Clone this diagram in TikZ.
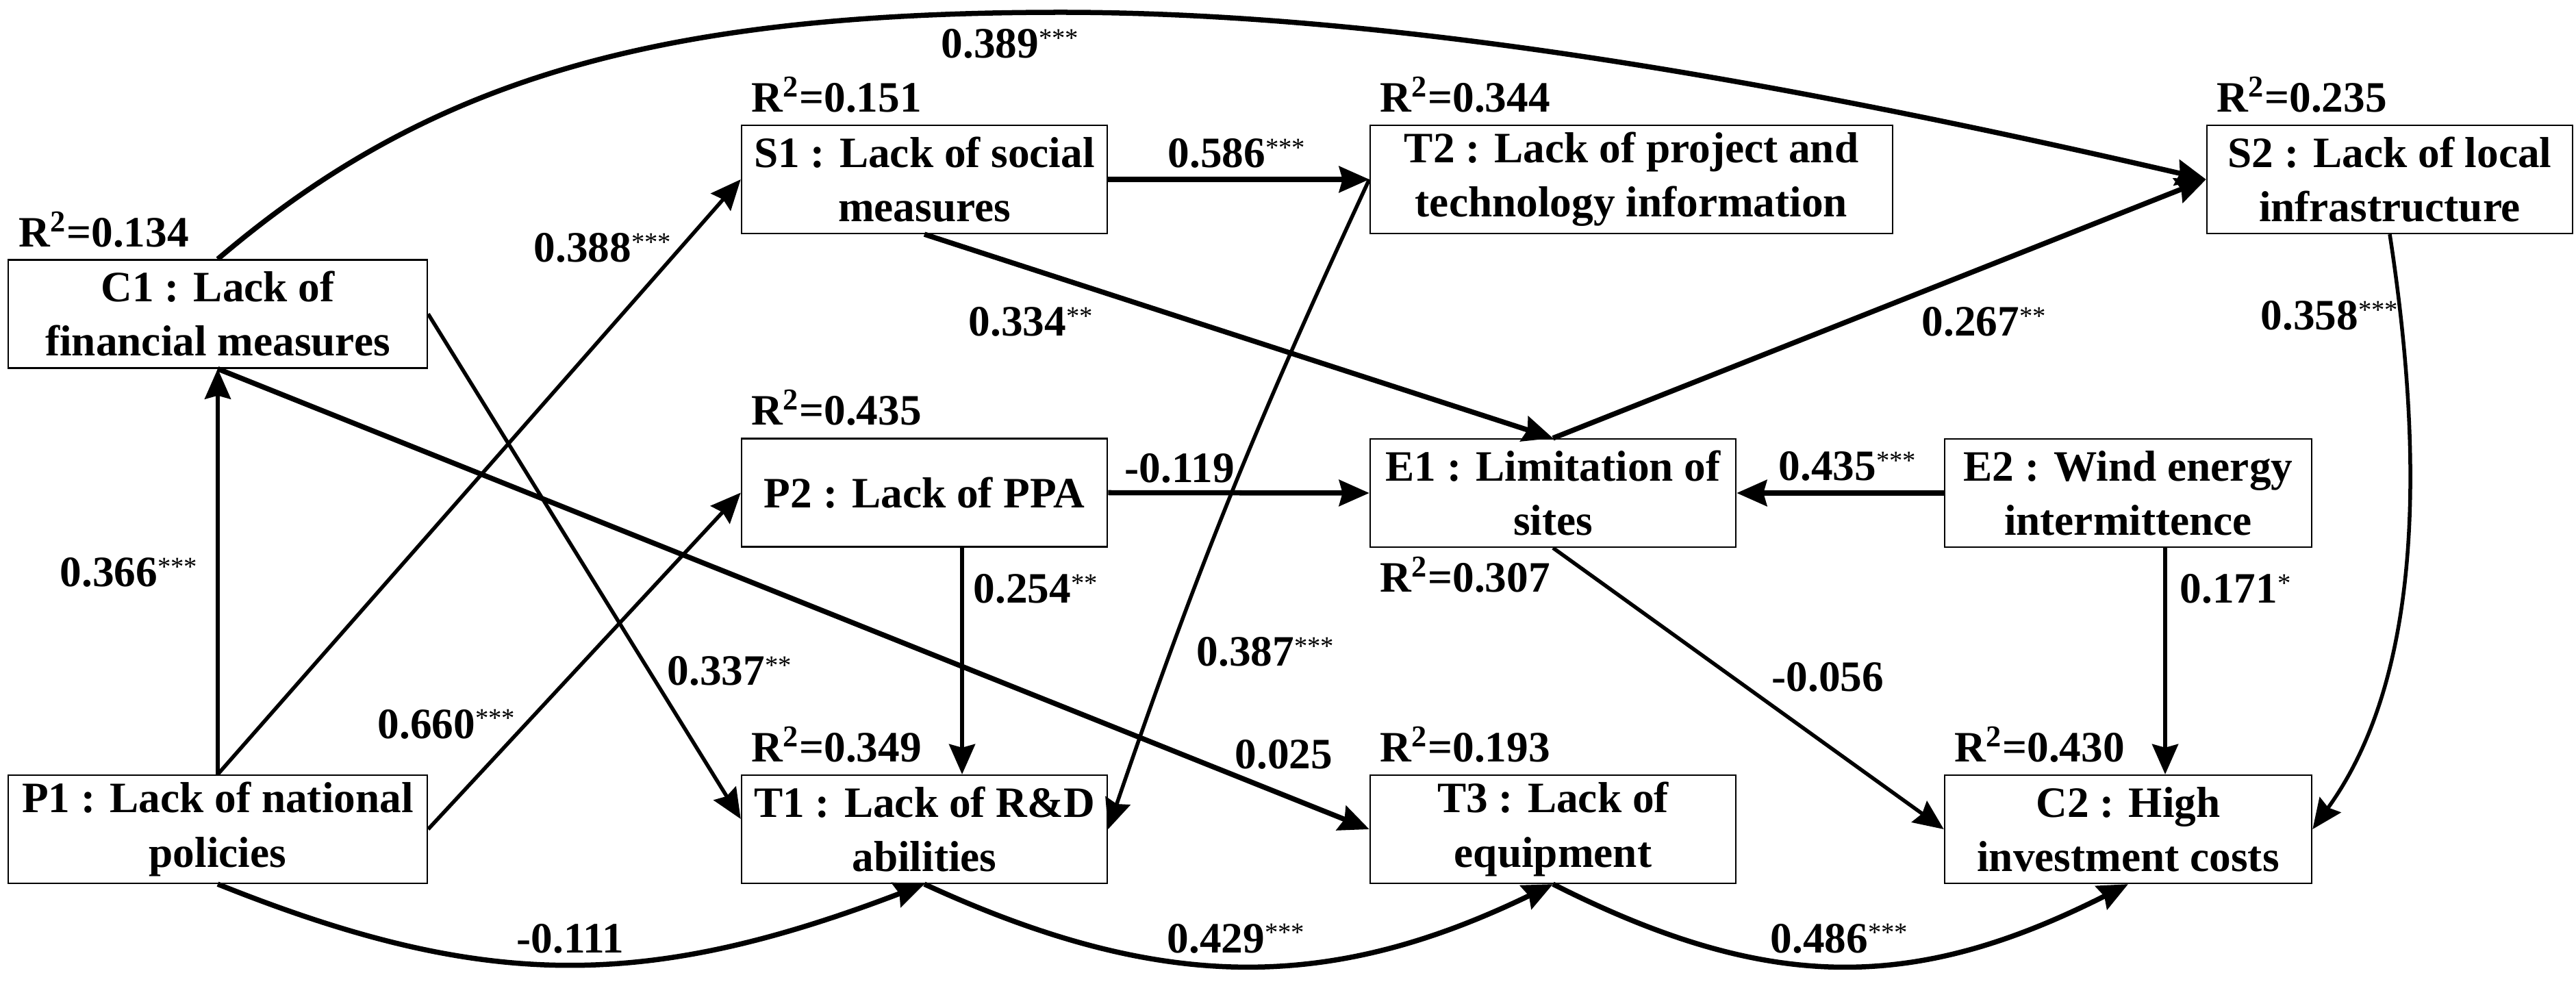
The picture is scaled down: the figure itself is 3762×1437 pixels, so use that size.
\documentclass[tikz,border=0pt]{standalone}
\usepackage{fontspec}
\setmainfont{Liberation Serif}
\usetikzlibrary{arrows.meta}
\newcommand{\mystars}[1]{\raisebox{4.8pt}{\fontsize{11}{11}\selectfont\mdseries #1}}
\begin{document}
\begin{tikzpicture}[x=0.01cm, y=-0.01cm,
  box/.style={draw, line width=0.022cm, inner sep=0pt, align=center, minimum height=1.58cm, font=\fontsize{18}{22.5}\selectfont\bfseries},
  rsq/.style={anchor=base west, inner sep=0pt, font=\fontsize{18}{22}\selectfont\bfseries},
  coef/.style={anchor=base west, inner sep=0pt, font=\fontsize{18}{22}\selectfont\bfseries},
  arr/.style={-{Stealth[length=0.44cm,width=0.38cm,inset=0.05cm]}},
  wthick/.style={arr, line width=0.075cm},
  wthin/.style={arr, line width=0.055cm}]
\useasboundingbox (0,0) rectangle (3762,1437);
\fill[white] (0,0) rectangle (3762,1437);
% boxes
\node[box, minimum width=6.12cm] (C1) at (318,458.5) {C1 : Lack of\\financial measures};
\node[box, minimum width=6.12cm] (P1) at (318,1211) {P1 : Lack of national\\policies};
\node[box, minimum width=5.34cm] (S1) at (1350,262) {S1 : Lack of social\\measures};
\node[box, minimum width=5.34cm] (P2) at (1350,719.5) {P2 : Lack of PPA};
\node[box, minimum width=5.34cm] (T1) at (1350,1211) {T1 : Lack of R\&D\\abilities};
\node[box, minimum width=7.63cm] (T2) at (2382.5,262) {T2 : Lack of project and\\technology information};
\node[box, minimum width=5.34cm] (E1) at (2268,720) {E1 : Limitation of\\sites};
\node[box, minimum width=5.34cm] (T3) at (2268,1211) {T3 : Lack of\\equipment};
\node[box, minimum width=5.34cm] (S2) at (3490,262) {S2 : Lack of local\\infrastructure};
\node[box, minimum width=5.36cm] (E2) at (3108,720) {E2 : Wind energy\\intermittence};
\node[box, minimum width=5.36cm] (C2) at (3108,1211) {C2 : High\\investment costs};
% R squared
\node[rsq] (rC1) at (27,361) {R\textsuperscript{2}=0.134};
\node[rsq] (rS1) at (1097,164) {R\textsuperscript{2}=0.151};
\node[rsq] (rP2) at (1097,621) {R\textsuperscript{2}=0.435};
\node[rsq] (rT1) at (1097,1113) {R\textsuperscript{2}=0.349};
\node[rsq] (rT2) at (2015,164) {R\textsuperscript{2}=0.344};
\node[rsq] (rS2) at (3237,164) {R\textsuperscript{2}=0.235};
\node[rsq] (rE1) at (2015,865) {R\textsuperscript{2}=0.307};
\node[rsq] (rT3) at (2015,1113) {R\textsuperscript{2}=0.193};
\node[rsq] (rC2) at (2854,1113) {R\textsuperscript{2}=0.430};
% connectors
\coordinate (peak) at (1550,18);
\draw[wthick] (C1.north) .. controls (621,120) and (950,18) .. (peak)
  .. controls (2050,18) and (2638,127) .. (S2.west);
\draw[wthick] (S1.east) -- (T2.west);
\draw[wthin] (P1.north) -- (C1.south);
\draw[wthin] (P1.north) -- (S1.west);
\draw[wthin] (P1.east) -- (P2.west);
\draw[wthin] (C1.east) -- ([yshift=0.15cm]T1.west);
\draw[wthick] (C1.south) -- (T3.west);
\draw[wthick] (S1.south) -- (E1.north);
\draw[wthick] (P2.east) -- (E1.west);
\draw[wthin] (T2.west) to[bend right=3] (T1.east);
\draw[wthin] ([xshift=0.55cm]P2.south) -- ([xshift=0.55cm]T1.north);
\draw[wthick] (E2.west) -- (E1.east);
\draw[wthick] (E1.north) -- (S2.west);
\draw[wthin] (S2.south) .. controls (3545,700) and (3530,1000) .. (C2.east);
\draw[wthin] ([xshift=0.54cm]E2.south) -- ([xshift=0.54cm]C2.north);
\draw[wthin] (E1.south) -- (C2.west);
\draw[wthick] (P1.south) .. controls (707,1447) and (941,1447) .. (T1.south);
\draw[wthick] (T1.south) .. controls (1695,1450) and (1940,1450) .. (T3.south);
\draw[wthick] (T3.south) .. controls (2582,1450) and (2794,1450) .. (C2.south);
% coefficients
\node[coef] (l389) at (1374,85) {0.389\mystars{***}};
\node[coef] (l586) at (1705,245) {0.586\mystars{***}};
\node[coef] (l388) at (779,383) {0.388\mystars{***}};
\node[coef] (l366) at (87,857) {0.366\mystars{***}};
\node[coef] (l660) at (551,1078) {0.660\mystars{***}};
\node[coef] (l337) at (974,1001) {0.337\mystars{**}};
\node[coef] (l025) at (1803,1123) {0.025};
\node[coef] (l334) at (1414,491) {0.334\mystars{**}};
\node[coef] (l119) at (1642,705) {-0.119};
\node[coef] (l387) at (1747,973) {0.387\mystars{***}};
\node[coef] (l254) at (1421,881) {0.254\mystars{**}};
\node[coef] (l435) at (2597,702) {0.435\mystars{***}};
\node[coef] (l267) at (2806,491) {0.267\mystars{**}};
\node[coef] (l358) at (3301,482) {0.358\mystars{***}};
\node[coef] (l171) at (3183,881) {0.171\mystars{*}};
\node[coef] (l056) at (2587,1010) {-0.056};
\node[coef] (l111) at (754,1391) {-0.111};
\node[coef] (l429) at (1704,1391) {0.429\mystars{***}};
\node[coef] (l486) at (2585,1391) {0.486\mystars{***}};
\end{tikzpicture}
\end{document}
